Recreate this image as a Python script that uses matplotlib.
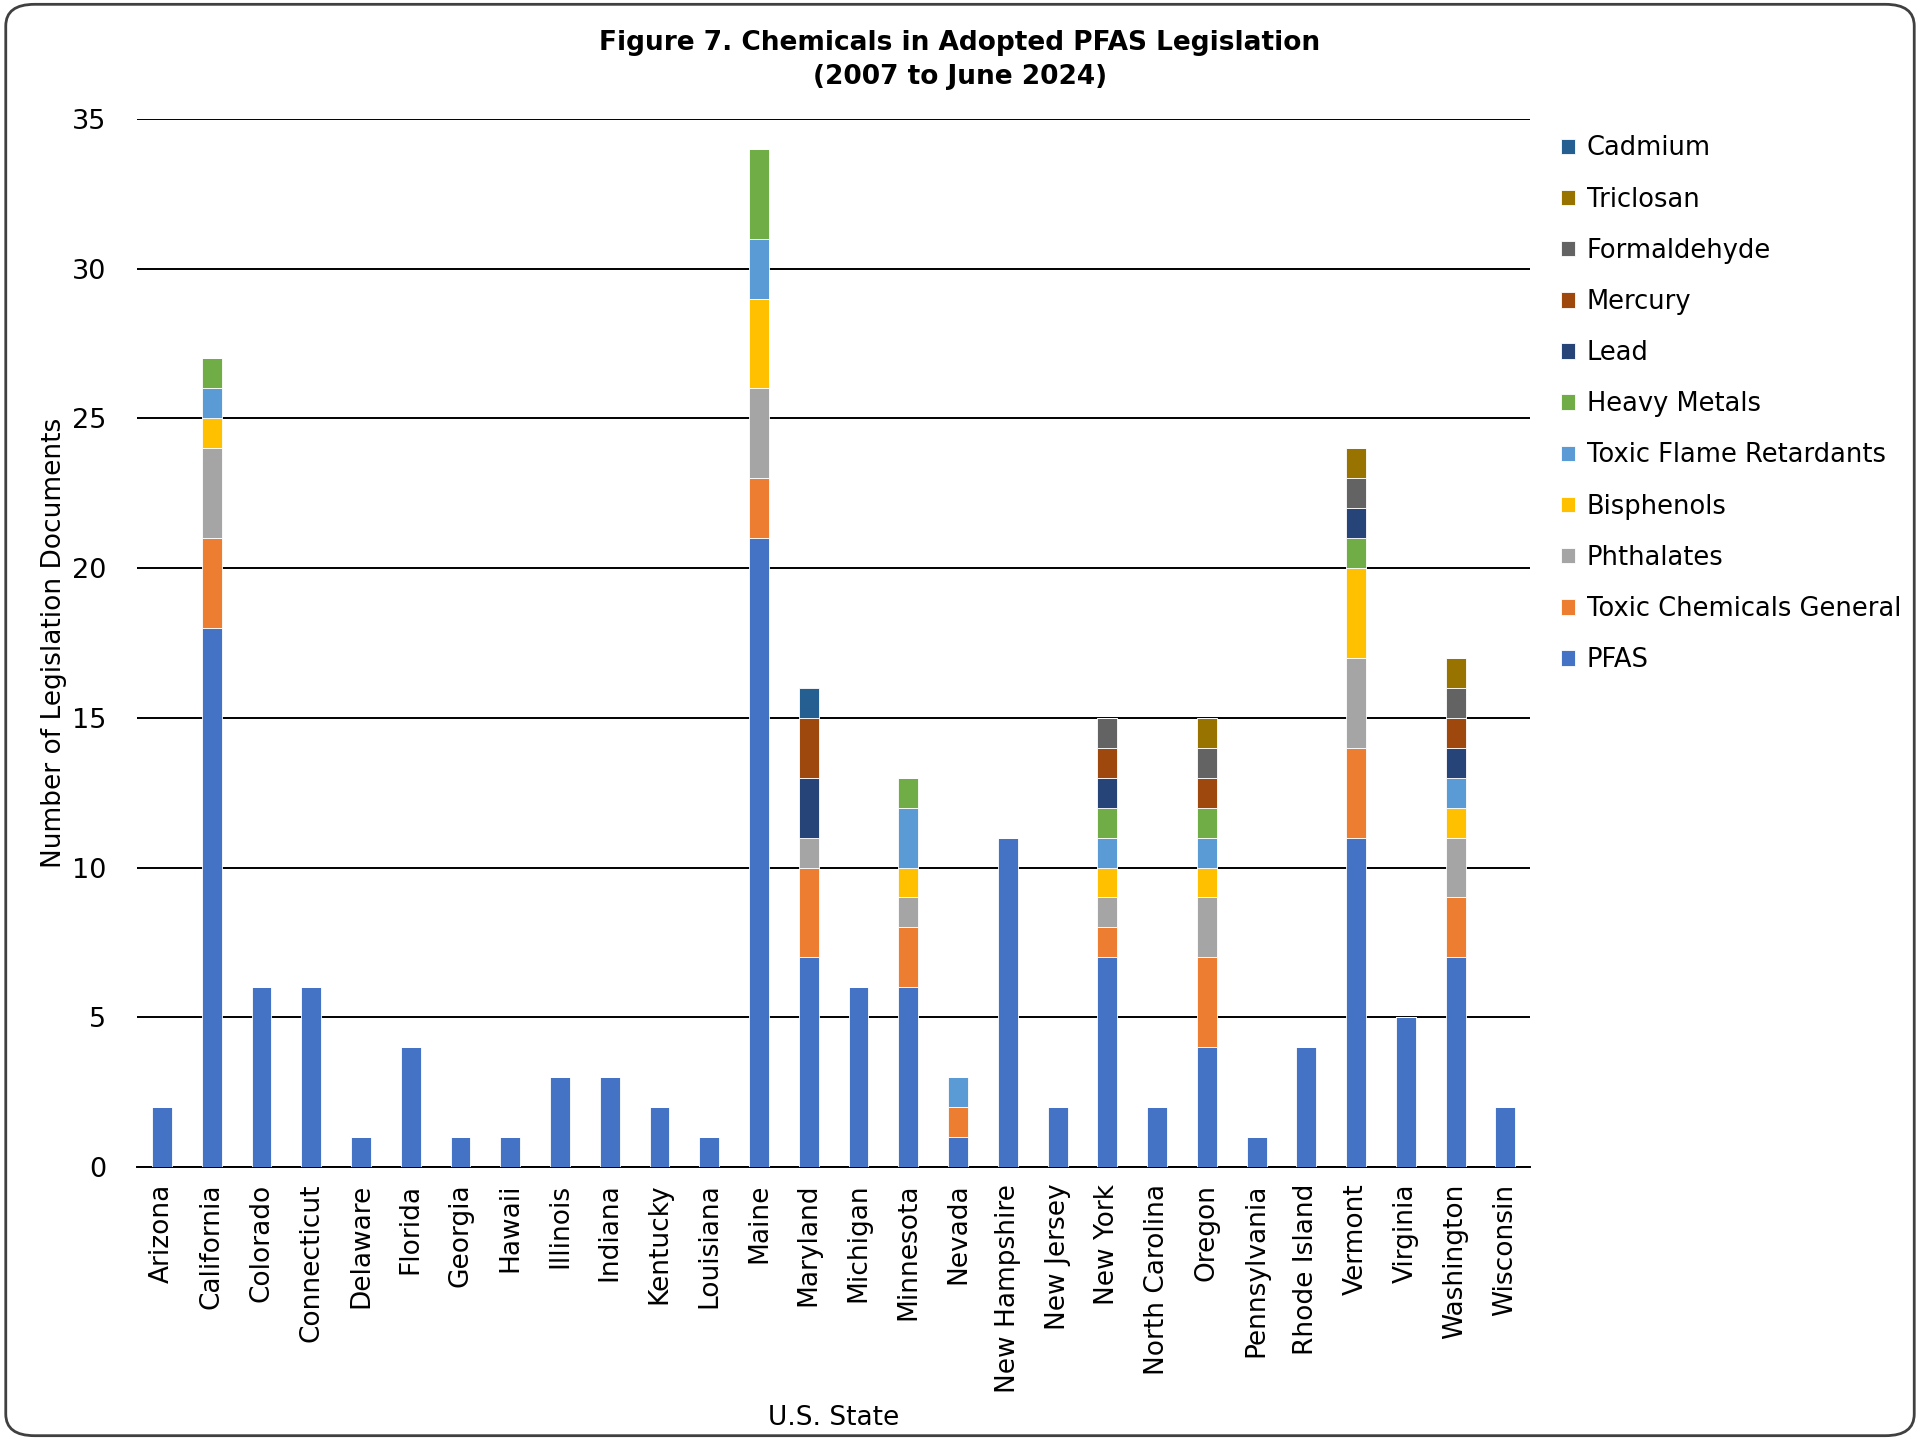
import matplotlib
matplotlib.use("Agg")
import matplotlib.pyplot as plt
from matplotlib.patches import FancyBboxPatch
import numpy as np

states = ["Arizona", "California", "Colorado", "Connecticut", "Delaware", "Florida",
          "Georgia", "Hawaii", "Illinois", "Indiana", "Kentucky", "Louisiana", "Maine",
          "Maryland", "Michigan", "Minnesota", "Nevada", "New Hampshire", "New Jersey",
          "New York", "North Carolina", "Oregon", "Pennsylvania", "Rhode Island",
          "Vermont", "Virginia", "Washington", "Wisconsin"]

pfas         = [2, 18, 6, 6, 1, 4, 1, 1, 3, 3, 2, 1, 21, 7, 6, 6, 1, 11, 2, 7, 2, 4, 1, 4, 11, 5, 7, 2]
toxic_gen    = [0, 3, 0, 0, 0, 0, 0, 0, 0, 0, 0, 0, 2, 3, 0, 2, 1, 0, 0, 1, 0, 3, 0, 0, 3, 0, 2, 0]
phthalates   = [0, 3, 0, 0, 0, 0, 0, 0, 0, 0, 0, 0, 3, 1, 0, 1, 0, 0, 0, 1, 0, 2, 0, 0, 3, 0, 2, 0]
bisphenols   = [0, 1, 0, 0, 0, 0, 0, 0, 0, 0, 0, 0, 3, 0, 0, 1, 0, 0, 0, 1, 0, 1, 0, 0, 3, 0, 1, 0]
flame_ret    = [0, 1, 0, 0, 0, 0, 0, 0, 0, 0, 0, 0, 2, 0, 0, 2, 1, 0, 0, 1, 0, 1, 0, 0, 0, 0, 1, 0]
heavy_metals = [0, 1, 0, 0, 0, 0, 0, 0, 0, 0, 0, 0, 3, 0, 0, 1, 0, 0, 0, 1, 0, 1, 0, 0, 1, 0, 0, 0]
lead         = [0, 0, 0, 0, 0, 0, 0, 0, 0, 0, 0, 0, 0, 2, 0, 0, 0, 0, 0, 1, 0, 0, 0, 0, 1, 0, 1, 0]
mercury      = [0, 0, 0, 0, 0, 0, 0, 0, 0, 0, 0, 0, 0, 2, 0, 0, 0, 0, 0, 1, 0, 1, 0, 0, 0, 0, 1, 0]
formaldehyde = [0, 0, 0, 0, 0, 0, 0, 0, 0, 0, 0, 0, 0, 0, 0, 0, 0, 0, 0, 1, 0, 1, 0, 0, 1, 0, 1, 0]
triclosan    = [0, 0, 0, 0, 0, 0, 0, 0, 0, 0, 0, 0, 0, 0, 0, 0, 0, 0, 0, 0, 0, 1, 0, 0, 1, 0, 1, 0]
cadmium      = [0, 0, 0, 0, 0, 0, 0, 0, 0, 0, 0, 0, 0, 1, 0, 0, 0, 0, 0, 0, 0, 0, 0, 0, 0, 0, 0, 0]

series_names = ["PFAS", "Toxic Chemicals General", "Phthalates", "Bisphenols",
                "Toxic Flame Retardants", "Heavy Metals", "Lead", "Mercury",
                "Formaldehyde", "Triclosan", "Cadmium"]
series_values = [pfas, toxic_gen, phthalates, bisphenols, flame_ret, heavy_metals,
                 lead, mercury, formaldehyde, triclosan, cadmium]
colors = ["#4472C4", "#ED7D31", "#A5A5A5", "#FFC000", "#5B9BD5", "#70AD47",
          "#264478", "#9E480E", "#636363", "#997300", "#255E91"]

plt.rcParams['font.family'] = ['DejaVu Sans']

fig = plt.figure(figsize=(19.2, 14.4), dpi=100)
ax = fig.add_axes([0.0714, 0.1896, 0.7256, 0.7278])

x = np.arange(len(states))
bottom = np.zeros(len(states))
handles = []
for name, vals, c in zip(series_names, series_values, colors):
    v = np.array(vals, dtype=float)
    b = ax.bar(x, v, bottom=bottom, width=0.4, color=c, label=name,
               edgecolor='white', linewidth=0.6, zorder=3)
    handles.append(b)
    bottom += v

ax.set_ylim(0, 35)
ax.set_xlim(-0.5, len(states) - 0.5)
ax.set_yticks(range(0, 36, 5))
ax.yaxis.grid(True, color='black', linewidth=1.4, zorder=0)
ax.set_axisbelow(True)
for s in ['top', 'right', 'left']:
    ax.spines[s].set_visible(False)
ax.spines['bottom'].set_linewidth(1.4)
ax.tick_params(axis='y', length=0, labelsize=19.5, pad=22)
ax.tick_params(axis='x', length=0, labelsize=19, pad=12)
ax.set_xticks(x)
ax.set_xticklabels(states, rotation=90)
ax.set_ylabel("Number of Legislation Documents", fontsize=19, labelpad=4)
ax.set_xlabel("U.S. State", fontsize=19)
ax.xaxis.label.set_va('center')
ax.xaxis.set_label_coords(0.5, -0.2395)

fig.text(0.5, 0.958, "Figure 7. Chemicals in Adopted PFAS Legislation\n(2007 to June 2024)",
         ha='center', va='center', fontsize=19, fontweight='bold', linespacing=1.4)

leg = fig.legend(handles[::-1], series_names[::-1], loc='upper left',
                 bbox_to_anchor=(0.813, 0.906), frameon=False, fontsize=18.5,
                 handlelength=0.55, handleheight=0.55, handletextpad=0.45,
                 labelspacing=0.98, borderpad=0, borderaxespad=0)

border = FancyBboxPatch((0.003, 0.003), 0.994, 0.994,
                        boxstyle="round,pad=0,rounding_size=0.015",
                        transform=fig.transFigure, facecolor='none',
                        edgecolor='#404040', linewidth=2)
fig.patches.append(border)

fig.savefig("out.png", dpi=100)
